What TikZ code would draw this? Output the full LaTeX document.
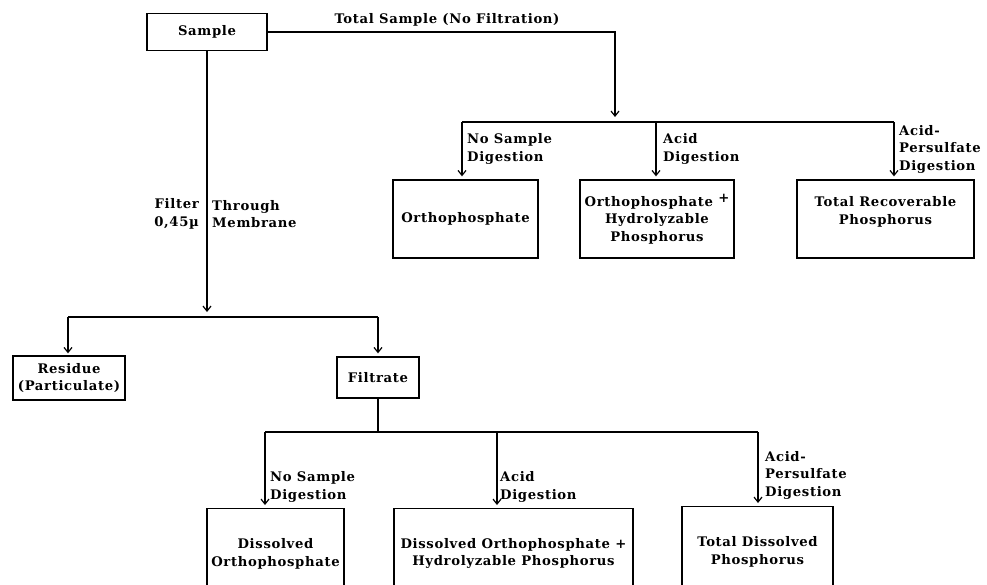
\documentclass[tikz,border=0pt]{standalone}
\usepackage{fontspec}
\setmainfont{DejaVu Serif}[LetterSpace=5]
\usetikzlibrary{arrows.meta}

\tikzset{
  box/.style={draw, line width=1.3pt, rectangle, align=center, inner sep=2pt},
  lbl/.style={align=left, anchor=west, inner sep=0pt},
  arr/.style={-{Straight Barb[length=5pt,width=8pt,line width=1.2pt]}, line width=1.3pt},
  bar/.style={line width=1.3pt}
}

\begin{document}
\begin{tikzpicture}[x=1pt, y=-1pt, font=\bfseries\fontsize{13.2}{17.5}\selectfont]
                \useasboundingbox (0,0) rectangle (987,584);

                % Nodes
                \node[box, minimum width=120, minimum height=37] (sample) at (207,32) {Sample};
                \node[inner sep=0pt] (total) at (447,20) {Total Sample (No Filtration)};

                \node[box, minimum width=145, minimum height=78] (ortho) at (465.5,219) {Orthophosphate};
                \node[box, minimum width=154, minimum height=78] (orthohyd) at (657,219) {Orthophosphate \raisebox{4pt}{+}\\Hydrolyzable\\Phosphorus};
                \node[box, minimum width=177, minimum height=78] (totrec) at (885.5,219) {Total Recoverable\\Phosphorus\\ };

                \node[box, minimum width=112, minimum height=44] (residue) at (69,378) {Residue\\(Particulate)};
                \node[box, minimum width=82, minimum height=41] (filtrate) at (378,377.5) {Filtrate};

                \node[box, minimum width=137, minimum height=90, anchor=north] (dortho) at (275.5,508) {Dissolved\\Orthophosphate};
                \node[box, minimum width=239, minimum height=90, anchor=north] (dorthohyd) at (513.5,508) {Dissolved Orthophosphate +\\Hydrolyzable Phosphorus};
                \node[box, minimum width=151, minimum height=90, anchor=north] (tdiss) at (757.5,506) {Total Dissolved\\Phosphorus};

                % Labels
                \node[lbl] (tl1) at (467,149) {No Sample\\Digestion};
                \node[lbl] (tl2) at (663,149) {Acid\\Digestion};
                \node[lbl] (tl3) at (899,149) {Acid-\\Persulfate\\Digestion};
                \node[lbl, anchor=east, align=right] (fl1) at (199,214) {Filter\\0,45µ};
                \node[lbl] (fl2) at (212,214) {Through\\Membrane};
                \node[lbl] (bl1) at (270,487) {No Sample\\Digestion};
                \node[lbl] (bl2) at (500,487) {Acid\\Digestion};
                \node[lbl] (bl3) at (765,475) {Acid-\\Persulfate\\Digestion};

                % Junctions
                \coordinate (tin) at (615,117);
                \coordinate (ta1) at (462,122);
                \coordinate (ta2) at (656,122);
                \coordinate (ta3) at (894,122);
                \coordinate (fin) at (207,312);
                \coordinate (ma1) at (68,317);
                \coordinate (ma2) at (378,317);
                \coordinate (bmid) at (378,432);
                \coordinate (ba1) at (265,432);
                \coordinate (ba2) at (497,432);
                \coordinate (ba3) at (758,432);

                % Edges
                \draw[arr] (sample.east) -| (tin);
                \draw[bar] (ta1) -- (ta3);
                \draw[arr, shorten >=3pt] (ta1) -- (ta1 |- ortho.north);
                \draw[arr, shorten >=3pt] (ta2) -- (ta2 |- orthohyd.north);
                \draw[arr, shorten >=3pt] (ta3) -- (ta3 |- totrec.north);

                \draw[arr] (sample.south) -- (fin);
                \draw[bar] (ma1) -- (ma2);
                \draw[arr, shorten >=2pt] (ma1) -- (ma1 |- residue.north);
                \draw[arr, shorten >=3pt] (ma2) -- (filtrate.north);

                \draw[bar] (filtrate.south) -- (bmid);
                \draw[bar] (ba1) -- (ba3);
                \draw[arr, shorten >=3pt] (ba1) -- (ba1 |- dortho.north);
                \draw[arr, shorten >=3pt] (ba2) -- (ba2 |- dorthohyd.north);
                \draw[arr, shorten >=3pt] (ba3) -- (ba3 |- tdiss.north);
            \end{tikzpicture}
\end{document}
